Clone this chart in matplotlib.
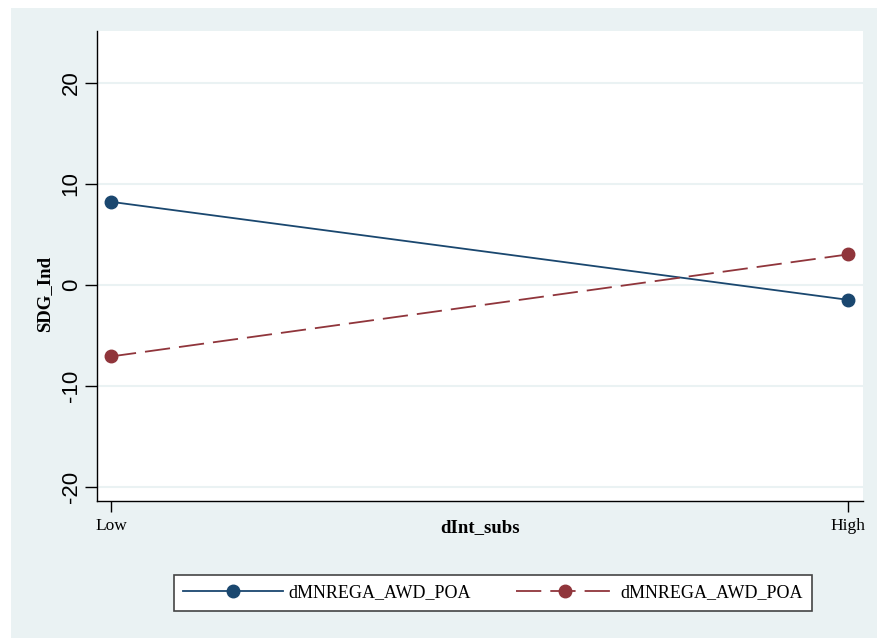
import matplotlib
matplotlib.use('Agg')
import matplotlib.pyplot as plt
import matplotlib.patches as patches

# data
levels = ['Low', 'High']
x_pos = [0, 1]
series_names = ['dMNREGA_AWD_POA', 'dMNREGA_AWD_POA']
blue_vals = [8.2, -1.5]
red_vals = [-7.1, 3.0]
y_ticks = [-20, -10, 0, 10, 20]

bg = '#eaf2f3'
navy = '#1a476f'
maroon = '#90353b'

fig = plt.figure(figsize=(8.78, 6.38), dpi=100)
fig.patch.set_facecolor('white')

# stata-ish light background box behind everything
fig.patches.append(patches.Rectangle((11/878, 0), 1 - 11/878, 1 - 8/638,
                                     transform=fig.transFigure, facecolor=bg,
                                     edgecolor='none', zorder=-10))

ax = fig.add_axes([97/878, 1 - 501/638, (863-97)/878, (501-31)/638])
ax.set_facecolor('white')

ax.plot(x_pos, blue_vals, color=navy, lw=1.3, marker='o', ms=9,
        label=series_names[0], zorder=3)
ax.plot(x_pos, red_vals, color=maroon, lw=1.3, marker='o', ms=9,
        dashes=(14, 5), label=series_names[1], zorder=3)

ax.set_xlim(-0.019, 1.02)
ax.set_ylim(-21.4, 25.1)
ax.set_yticks(y_ticks)
ax.set_yticklabels([str(v) for v in y_ticks], rotation=90, va='center',
                   fontsize=16, family='Liberation Sans')
ax.set_xticks(x_pos)
ax.set_xticklabels(levels, family='Liberation Serif', fontsize=12.5)

ax.yaxis.grid(True, color=bg, lw=1.5)
ax.set_axisbelow(True)

for s in ['top', 'right']:
    ax.spines[s].set_visible(False)
for s in ['left', 'bottom']:
    ax.spines[s].set_color('black')
    ax.spines[s].set_linewidth(1.0)
ax.tick_params(axis='y', length=9, width=1, pad=2)
ax.tick_params(axis='x', length=8, width=1, pad=4)

ax.set_ylabel('SDG_Ind', family='Liberation Serif', fontweight='bold',
              fontsize=13.5, va='center')
ax.yaxis.set_label_coords(-0.069, 0.44)
ax.set_xlabel('dInt_subs', family='Liberation Serif', fontweight='bold',
              fontsize=13.5, va='center')
ax.xaxis.set_label_coords(0.5, -0.057)

leg = fig.legend(loc='center', bbox_to_anchor=(493/878, 1 - 593/638),
                 ncol=2, frameon=True, fancybox=False, edgecolor='#444444',
                 framealpha=1, facecolor='white',
                 prop={'family': 'Liberation Serif', 'size': 13},
                 handlelength=5.5, columnspacing=2.5, handletextpad=0.3,
                 borderpad=0.5)
leg.get_frame().set_linewidth(1.2)

fig.savefig('out.png', dpi=100)
